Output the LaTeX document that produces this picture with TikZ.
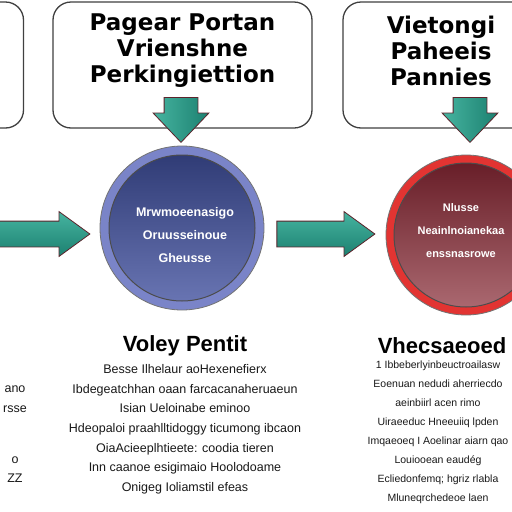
\documentclass[tikz,border=0pt]{standalone}
\usepackage{fontspec}
\setmainfont{Liberation Sans}
\newfontfamily\heavyfont{DejaVu Sans}
\usetikzlibrary{shapes.arrows,positioning}
\definecolor{arrowedge}{RGB}{92,36,44}
\definecolor{tealdark}{RGB}{28,128,112}
\definecolor{teallight}{RGB}{70,180,160}
\definecolor{ringblue}{RGB}{122,132,200}
\definecolor{coreblueA}{RGB}{48,60,118}
\definecolor{coreblueB}{RGB}{104,116,178}
\definecolor{ringred}{RGB}{226,52,50}
\definecolor{coreredA}{RGB}{104,30,40}
\definecolor{coreredB}{RGB}{170,104,112}

\begin{document}
\begin{tikzpicture}[x=1pt, y=-1pt,
  panel/.style={rectangle, rounded corners=18pt, draw=black!75, line width=1.3pt, fill=white,
                minimum height=126pt, inner sep=0pt},
  paneltxt/.style={font=\heavyfont\fontsize{23}{26}\selectfont\bfseries, align=center, inner sep=0pt},
  ring/.style={circle, inner sep=0pt, draw=black!55, line width=0.8pt},
  core/.style={circle, inner sep=0pt, draw=black!70, line width=1pt},
  coretxt/.style={font=\fontsize{12.5}{23}\selectfont\bfseries, text=white, align=center},
  sidearr/.style={single arrow, draw=arrowedge, line width=0.8pt, inner xsep=0pt, inner ysep=12.5pt,
                  single arrow head extend=9.5pt, single arrow tip angle=72,
                  top color=teallight, bottom color=tealdark},
  downarr/.style={single arrow, rotate=-90, draw=arrowedge, line width=0.8pt, inner xsep=0pt, inner ysep=16.5pt,
                  single arrow head extend=11pt, single arrow tip angle=87, minimum height=45pt,
                  left color=teallight, right color=tealdark},
  coltitle/.style={font=\fontsize{22}{22}\selectfont\bfseries, inner sep=0pt},
  coltxt/.style={font=\fontsize{12.5}{19.6}\selectfont, text=black!90, align=center, inner sep=0pt},
]
\useasboundingbox (0,0) rectangle (512,512);
\clip (0,0) rectangle (512,512);
\fill[white] (0,0) rectangle (512,512);

% top panels
\node[panel, minimum width=263pt] (panelL) at (-108,65) {};
\node[panel, minimum width=259pt] (panelM) at (182.5,65) {};
\node[panel, minimum width=246pt] (panelR) at (466,65) {};
\node[paneltxt] (txtM) at (182.5,51) {Pagear Portan\\Vrienshne\\Perkingiettion};
\node[paneltxt] (txtR) at (441,51) {Vietongi\\Paheeis\\Pannies};

% arrows out of the panels
\node[downarr] (downM) at (181,111) {};
\node[downarr] (downR) at (470,111) {};

% circles
\node[ring, fill=ringblue, minimum size=164pt] (ringM) at (182,228) {};
\node[core, top color=coreblueA, bottom color=coreblueB, minimum size=146pt] (coreM) at (ringM.center) {};
\node[coretxt] (labM) at (185,235) {Mrwmoeenasigo\\Oruusseinoue\\Gheusse};

\node[ring, fill=ringred, minimum size=160pt] (ringR) at (466,235) {};
\node[core, top color=coreredA, bottom color=coreredB, minimum size=144pt] (coreR) at (ringR.center) {};
\node[coretxt, font=\fontsize{11}{23}\selectfont\bfseries] (labR) at (461,231) {Nlusse\\Neainlnoianekaa\\enssnasrowe};

% arrows between the circles
\node[sidearr, minimum height=100pt] (sideL) at (31,234) {};
\node[sidearr, minimum height=98pt] (sideM) at (317,234) {};

% text columns
\node[coltitle] (headM) at (185,346) {Voley Pentit};
\node[coltxt, below=8pt of headM] (bodyM) {Besse Ilhelaur aoHexenefierx\\
  Ibdegeatchhan oaan farcacanaheruaeun\\
  Isian Ueloinabe eminoo\\
  Hdeopaloi praahlltidoggy ticumong ibcaon\\
  OiaAcieeplhtieete: coodia tieren\\
  Inn caanoe esigimaio Hoolodoame\\
  Onigeg Ioliamstil efeas};

\node[coltitle] (headR) at (442,346) {Vhecsaeoed};
\node[coltxt, font=\fontsize{10.5}{19}\selectfont, below=6pt of headR, xshift=-4pt] (bodyR) {1 Ibbeberlyinbeuctroailasw\\
  Eoenuan nedudi aherriecdo\\
  aeinbiirl acen rimo\\
  Uiraeeduc Hneeuiiq lpden\\
  Imqaeoeq I Aoelinar aiarn qao\\
  Louiooean eaud\'eg\\
  Ecliedonfemq; hgriz rlabla\\
  Mluneqrchedeoe laen};

\node[coltxt, anchor=north east] (bodyL) at (27,386) {ano\\rsse\\[2.5em]o\\ZZ};
\end{tikzpicture}
\end{document}
